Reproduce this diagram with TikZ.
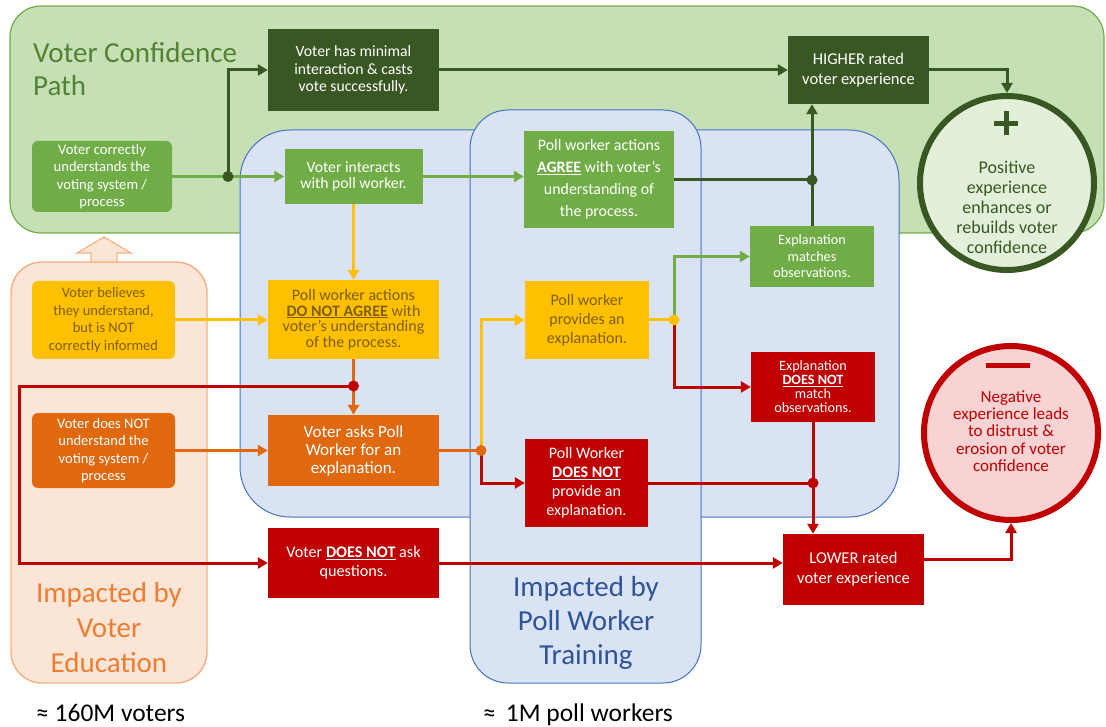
\documentclass[tikz,border=0pt]{standalone}
\usepackage{fontspec}
\setmainfont{Carlito}
\usetikzlibrary{arrows.meta}

\definecolor{bggreen}{HTML}{C5E0B4}
\definecolor{lngreen}{HTML}{70AD47}
\definecolor{dkgreen}{HTML}{385723}
\definecolor{ttgreen}{HTML}{548235}
\definecolor{bgblue}{HTML}{DAE3F3}
\definecolor{lnblue}{HTML}{4472C4}
\definecolor{ttblue}{HTML}{2F5597}
\definecolor{bgorange}{HTML}{FBE5D6}
\definecolor{lnorange}{HTML}{F4B183}
\definecolor{ttorange}{HTML}{ED7D31}
\definecolor{boxyellow}{HTML}{FFC000}
\definecolor{txyellow}{HTML}{7F6000}
\definecolor{boxorange}{HTML}{E0680F}
\definecolor{boxred}{HTML}{C00000}
\definecolor{posfill}{HTML}{E2F0D9}
\definecolor{negfill}{HTML}{F9D3D3}

\newcommand{\boxfont}[2]{\fontsize{#1}{#2}\selectfont}

\begin{document}
\begin{tikzpicture}[x=1pt, y=-1pt, >={Triangle[length=10pt,width=11pt]},
    box/.style={rectangle, inner sep=1pt, align=center, text=white},
    flow/.style={line width=3pt, draw=#1},
    junction/.style={circle, fill=#1, inner sep=0pt, minimum size=11pt},
    bubble/.style={circle, line width=6pt, minimum size=174pt, inner sep=0pt},
    regiontext/.style={inner sep=0pt, align=center, font=\boxfont{29}{35}}]
    \useasboundingbox (0,0) rectangle (1106,727);

    % background regions
    \draw[draw=lngreen, fill=bggreen, line width=1.2pt, rounded corners=31pt] (10,6) rectangle (1104,233);
    \draw[draw=lnorange, fill=bgorange, line width=1.4pt, rounded corners=31pt] (11,262) rectangle (207,683);
    \draw[draw=lnorange, fill=bgorange, line width=1.2pt] (104,237) -- (131,253) -- (117,253) -- (117,262)
        -- (91,262) -- (91,253) -- (77,253) -- cycle;
    \draw[draw=lnblue, fill=bgblue, line width=1pt, rounded corners=50pt] (240,130) rectangle (899,517);
    \draw[draw=lnblue, fill=bgblue, line width=1pt, rounded corners=38pt] (470,110) rectangle (701,683);

    \node[regiontext, text=ttgreen, align=left, anchor=north west, font=\boxfont{29}{33}] (pathtitle) at (33,42)
        {Voter Confidence\\Path};
    \node[regiontext, text=ttorange, anchor=north] (edutitle) at (109,582) {Impacted by\\Voter\\Education};
    \node[regiontext, text=ttblue, anchor=north, font=\boxfont{29}{34}] (traintitle) at (586,576)
        {Impacted by\\Poll Worker\\Training};
    \node[inner sep=0pt, anchor=base west, font=\boxfont{25.5}{28}] (voters) at (36,721) {≈ 160M voters};
    \node[inner sep=0pt, anchor=base west, font=\boxfont{25.5}{28}] (workers) at (483,721) {≈\, 1M poll workers};

    % starting points
    \node[box, fill=lngreen, rounded corners=6pt, minimum width=140pt, minimum height=71pt, font=\boxfont{14.6}{17.5}]
        (correct) at (102,176.5) {Voter correctly\\understands the\\voting system /\\process};
    \node[box, fill=boxyellow, text=txyellow, rounded corners=6pt, minimum width=143pt, minimum height=78pt,
        font=\boxfont{14.5}{17.5}] (believes) at (103.5,320) {Voter believes\\they understand,\\but is NOT\\correctly informed};
    \node[box, fill=boxorange, rounded corners=6pt, minimum width=143pt, minimum height=75pt, font=\boxfont{14.5}{17.5}]
        (notund) at (103.5,450.5) {Voter does NOT\\understand the\\voting system /\\process};

    % steps
    \node[box, fill=dkgreen, minimum width=171pt, minimum height=82pt, font=\boxfont{15.7}{17.5}]
        (minimal) at (353.5,70) {Voter has minimal\\interaction \& casts\\vote successfully.};
    \node[box, fill=dkgreen, minimum width=141pt, minimum height=68pt, font=\boxfont{16.5}{20}]
        (higher) at (858.5,70) {HIGHER rated\\voter experience};
    \node[box, fill=lngreen, minimum width=138pt, minimum height=55pt, font=\boxfont{15.7}{16.5}]
        (interacts) at (353.5,176.5) {Voter interacts\\with poll worker.};
    \node[box, fill=lngreen, minimum width=150pt, minimum height=97pt, font=\boxfont{15.9}{22}]
        (agree) at (599,179.5) {Poll worker actions\\\underline{\textbf{AGREE}} with voter’s\\understanding of\\the process.};
    \node[box, fill=boxyellow, text=txyellow, minimum width=171pt, minimum height=79pt, font=\boxfont{16}{15.5}]
        (dnagree) at (353.5,319.5) {Poll worker actions\\\underline{\textbf{DO NOT AGREE}} with\\voter’s understanding\\of the process.};
    \node[box, fill=boxorange, minimum width=171pt, minimum height=71pt, font=\boxfont{17}{18}]
        (asks) at (353.5,450.5) {Voter asks Poll\\Worker for an\\explanation.};
    \node[box, fill=boxyellow, text=txyellow, minimum width=124pt, minimum height=78pt, font=\boxfont{16}{19}]
        (provides) at (587,320) {Poll worker\\provides an\\explanation.};
    \node[box, fill=boxred, minimum width=123pt, minimum height=88pt, font=\boxfont{16}{19}]
        (noprov) at (586.5,483) {Poll Worker\\\underline{\textbf{DOES NOT}}\\provide an\\explanation.};
    \node[box, fill=lngreen, minimum width=124pt, minimum height=61pt, font=\boxfont{14.2}{16.5}]
        (matches) at (812,256.5) {Explanation\\matches\\observations.};
    \node[box, fill=boxred, minimum width=124pt, minimum height=70pt, font=\boxfont{14.2}{14}]
        (nomatch) at (813,387) {Explanation\\\underline{\textbf{DOES NOT}}\\match\\observations.};
    \node[box, fill=boxred, minimum width=171pt, minimum height=70pt, font=\boxfont{16.2}{19}]
        (noask) at (353.5,563) {Voter \underline{\textbf{DOES NOT}} ask\\questions.};
    \node[box, fill=boxred, minimum width=141pt, minimum height=71pt, font=\boxfont{16.5}{20}]
        (lower) at (853.5,569.5) {LOWER rated\\voter experience};

    % outcomes
    \node[bubble, draw=dkgreen, fill=posfill] (positive) at (1007,183) {};
    \node[bubble, draw=boxred, fill=negfill] (negative) at (1011,433) {};
    \fill[dkgreen] (994,121) rectangle (1018,126);
    \fill[dkgreen] (1003.5,111) rectangle (1008.5,135);
    \fill[boxred] (986,363) rectangle (1030,368);
    \node[inner sep=0pt, align=center, text=dkgreen, font=\boxfont{18}{20}] (postext) at (1007,207)
        {Positive\\experience\\enhances or\\rebuilds voter\\confidence};
    \node[inner sep=0pt, align=center, text=boxred, font=\boxfont{17}{17.3}] (negtext) at (1011,431)
        {Negative\\experience leads\\to distrust \&\\erosion of voter\\confidence};

    % connectors
    \coordinate (j1) at (228,176.5);
    \coordinate (j2) at (812,180);
    \coordinate (j3) at (353.5,386);
    \coordinate (j4) at (481,450.5);
    \coordinate (j5) at (674,320);
    \coordinate (j6) at (813,483);
    \coordinate (bend) at (19,386);

    \draw[flow=lngreen, ->] (correct.east) -- (interacts.west);
    \draw[flow=dkgreen, ->] (j1) |- (minimal.west);
    \draw[flow=dkgreen, ->] (minimal.east) -- (higher.west);
    \draw[flow=dkgreen, ->] (higher.east) -| (positive.north);
    \draw[flow=lngreen, ->] (interacts.east) -- (interacts.east -| agree.west);
    \draw[flow=dkgreen] (j2 -| agree.east) -- (j2);
    \draw[flow=dkgreen, ->] (matches.north) -- (j2 |- higher.south);
    \draw[flow=boxyellow, ->] (interacts.south) -- (dnagree.north);
    \draw[flow=boxyellow, ->] (believes.east) -- (believes.east -| dnagree.west);
    \draw[flow=boxorange, ->] (dnagree.south) -- (asks.north);
    \draw[flow=boxred, ->] (j3) -- (bend) |- (noask.west);
    \draw[flow=boxorange, ->] (notund.east) -- (asks.west);
    \draw[flow=boxorange] (asks.east) -- (j4);
    \draw[flow=boxyellow, ->] (j4) |- (provides.west);
    \draw[flow=boxred, ->] (j4) |- (noprov.west);
    \draw[flow=boxyellow] (provides.east) -- (j5);
    \draw[flow=lngreen, ->] (j5) |- (matches.west);
    \draw[flow=boxred, ->] (j5) |- (nomatch.west);
    \draw[flow=boxred] (noprov.east) -- (j6);
    \draw[flow=boxred, ->] (nomatch.south) -- (nomatch.south |- lower.north);
    \draw[flow=boxred, ->] (noask.east) -- (noask.east -| lower.west);
    \draw[flow=boxred, ->] ([yshift=10pt]lower.east) -| (negative.south);

    \node[junction=dkgreen] (dot1) at (j1) {};
    \node[junction=dkgreen] (dot2) at (j2) {};
    \node[junction=boxred] (dot3) at (j3) {};
    \node[junction=boxorange] (dot4) at (j4) {};
    \node[junction=boxyellow] (dot5) at (j5) {};
    \node[junction=boxred] (dot6) at (j6) {};
\end{tikzpicture}
\end{document}
